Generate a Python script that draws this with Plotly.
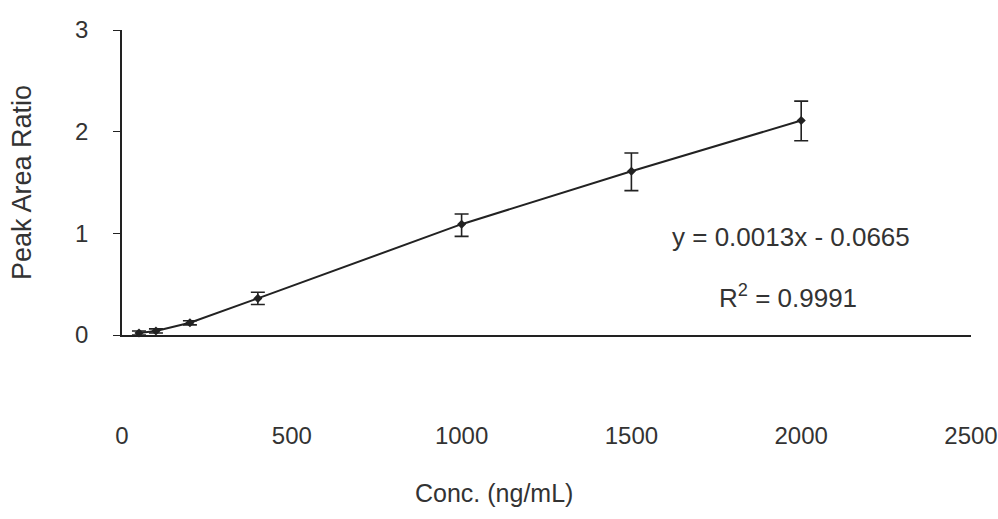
import plotly.graph_objects as go

conc = [50, 100, 200, 400, 1000, 1500, 2000]
ratio = [0.02, 0.04, 0.12, 0.36, 1.09, 1.61, 2.11]
err_plus = [0.02, 0.02, 0.02, 0.06, 0.10, 0.18, 0.19]
err_minus = [0.02, 0.02, 0.02, 0.06, 0.12, 0.19, 0.20]

x_ticks = [0, 500, 1000, 1500, 2000, 2500]
y_ticks = [0, 1, 2, 3]

equation = "y = 0.0013x - 0.0665"
r2 = "R<sup>2</sup> = 0.9991"

font_family = "Liberation Sans, Arial, sans-serif"
text_color = "#333333"
ink = "#222222"

fig = go.Figure()
fig.add_trace(go.Scatter(
    x=conc, y=ratio,
    mode="lines+markers",
    line=dict(color=ink, width=2),
    marker=dict(symbol="diamond", size=7, color=ink),
    error_y=dict(type="data", symmetric=False, array=err_plus, arrayminus=err_minus,
                 color=ink, thickness=1.6, width=7),
    showlegend=False,
    cliponaxis=False,
))

fig.add_annotation(x=1970, y=0.96, xref="x", yref="y", text=equation, showarrow=False,
                   xanchor="center", yanchor="middle",
                   font=dict(family=font_family, size=26, color=text_color))
fig.add_annotation(x=1960, y=0.38, xref="x", yref="y", text=r2, showarrow=False,
                   xanchor="center", yanchor="middle",
                   font=dict(family=font_family, size=26, color=text_color))
fig.add_annotation(x=0.438, y=-0.518, xref="paper", yref="paper", text="Conc. (ng/mL)",
                   showarrow=False, xanchor="center", yanchor="middle",
                   font=dict(family=font_family, size=25, color=text_color))

fig.update_layout(
    width=998, height=519,
    margin=dict(l=122, r=27, t=30, b=184),
    paper_bgcolor="white", plot_bgcolor="white",
    font=dict(family=font_family, color=text_color),
)
fig.update_xaxes(
    range=[0, 2500], tickvals=x_ticks, ticktext=[str(v) for v in x_ticks],
    showgrid=False, zeroline=False, showline=True, linecolor=ink, linewidth=1.6,
    ticks="", ticklabelstandoff=78, tickfont=dict(size=24, color=text_color),
    automargin=False,
)
fig.update_yaxes(
    range=[0, 3], tickvals=y_ticks,
    showgrid=False, zeroline=False, showline=True, linecolor=ink, linewidth=1.6,
    ticks="outside", ticklen=7, tickcolor=ink, ticklabelstandoff=20,
    tickfont=dict(size=24, color=text_color),
    title=dict(text="Peak Area Ratio", font=dict(size=27, color=text_color), standoff=36),
    automargin=False,
)

fig.write_html("out.html")
